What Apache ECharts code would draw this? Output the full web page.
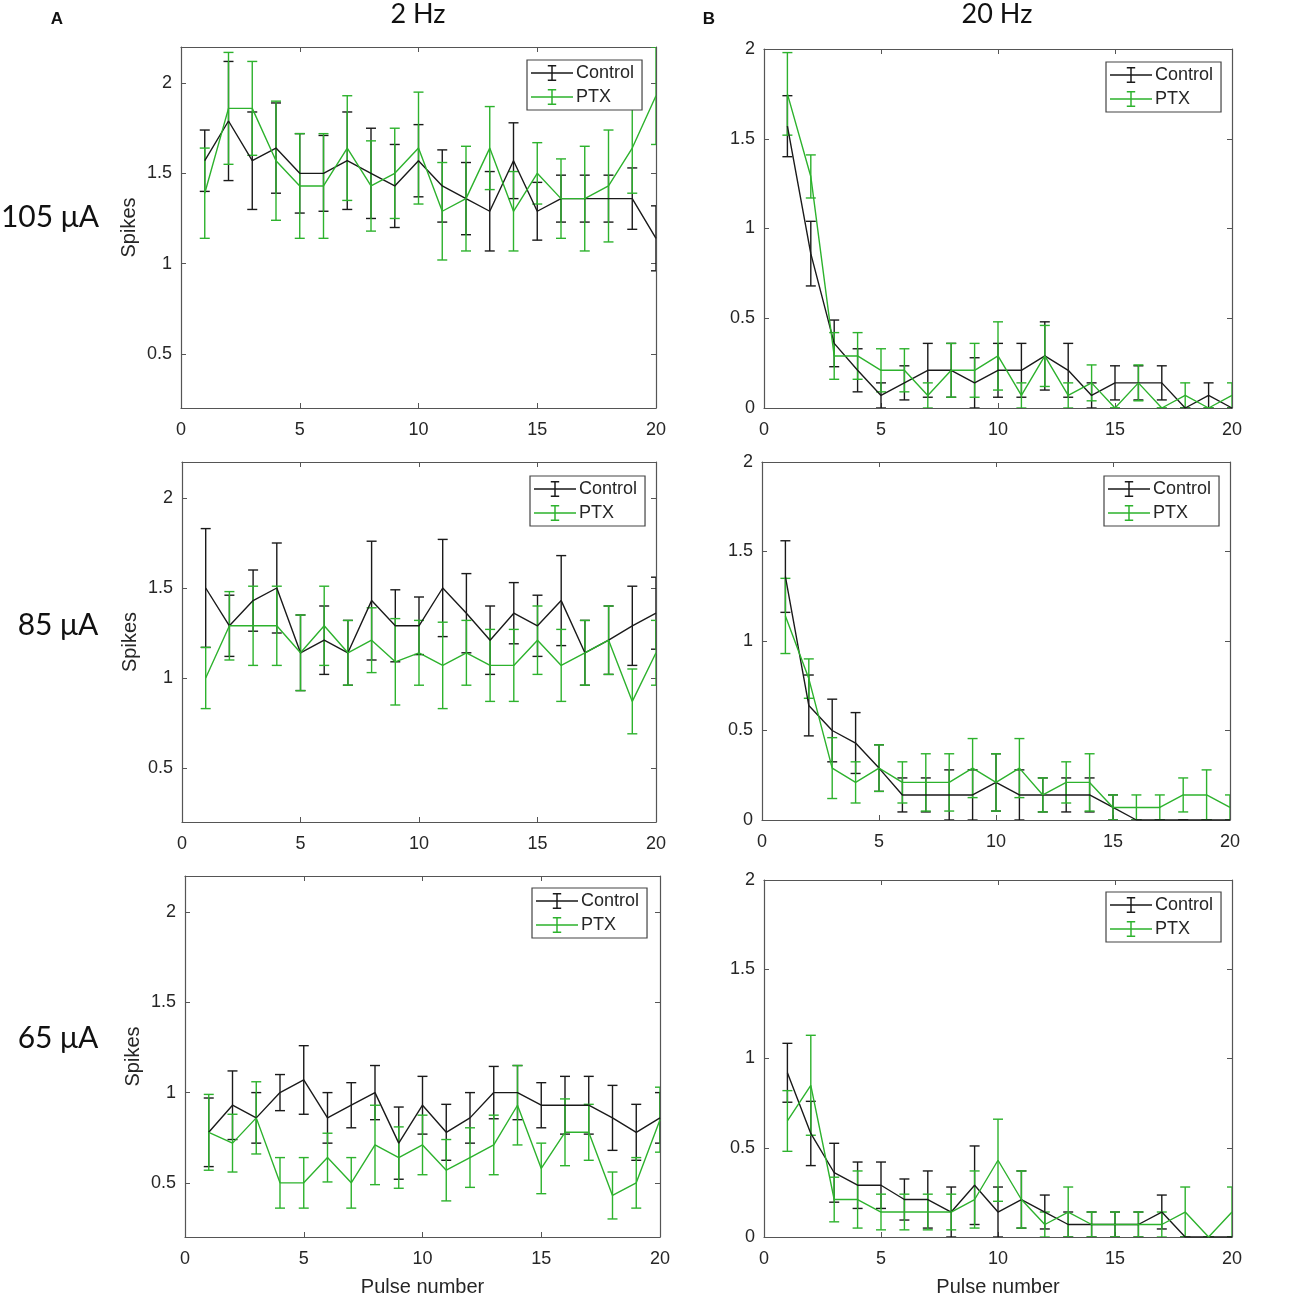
<!DOCTYPE html>
<html>
<head>
<meta charset="utf-8">
<script src="https://cdn.jsdelivr.net/npm/echarts@6/dist/echarts.min.js"></script>
<style>
  html, body { margin: 0; padding: 0; background: #fff; }
  #chart { width: 1290px; height: 1300px; }
</style>
</head>
<body>
<div id="chart"></div>
<script>
// pulse numbers
const pulses = [1,2,3,4,5,6,7,8,9,10,11,12,13,14,15,16,17,18,19,20];

// A - 2 Hz
const ctrl105_2 = [1.57,1.79,1.57,1.64,1.50,1.50,1.57,1.50,1.43,1.57,1.43,1.36,1.29,1.57,1.29,1.36,1.36,1.36,1.36,1.14];
const ctrlErr105_2 = [0.17,0.33,0.27,0.25,0.22,0.21,0.27,0.25,0.23,0.20,0.20,0.20,0.22,0.21,0.16,0.13,0.13,0.13,0.17,0.18];
const ptx105_2 = [1.39,1.86,1.86,1.57,1.43,1.43,1.64,1.43,1.50,1.64,1.29,1.36,1.64,1.29,1.50,1.36,1.36,1.43,1.64,1.93];
const ptxErr105_2 = [0.25,0.31,0.26,0.33,0.29,0.29,0.29,0.25,0.25,0.31,0.27,0.29,0.23,0.22,0.17,0.22,0.29,0.31,0.25,0.27];

const ctrl85_2 = [1.50,1.29,1.43,1.50,1.14,1.21,1.14,1.43,1.29,1.29,1.50,1.36,1.21,1.36,1.29,1.43,1.14,1.21,1.29,1.36];
const ctrlErr85_2 = [0.33,0.17,0.17,0.25,0.21,0.19,0.18,0.33,0.20,0.16,0.27,0.22,0.19,0.17,0.17,0.25,0.18,0.19,0.22,0.20];
const ptx85_2 = [1.00,1.29,1.29,1.29,1.14,1.29,1.14,1.21,1.09,1.14,1.07,1.14,1.07,1.07,1.21,1.07,1.14,1.21,0.87,1.14];
const ptxErr85_2 = [0.17,0.19,0.22,0.22,0.21,0.22,0.18,0.18,0.24,0.18,0.24,0.18,0.20,0.20,0.19,0.20,0.18,0.19,0.18,0.18];

const ctrl65_2 = [0.78,0.93,0.86,1.00,1.07,0.86,0.93,1.00,0.72,0.93,0.78,0.86,1.00,1.00,0.93,0.93,0.93,0.86,0.78,0.86];
const ctrlErr65_2 = [0.19,0.19,0.14,0.10,0.19,0.14,0.125,0.15,0.20,0.16,0.155,0.14,0.145,0.15,0.125,0.16,0.16,0.18,0.155,0.14];
const ptx65_2 = [0.78,0.72,0.86,0.50,0.50,0.64,0.50,0.71,0.64,0.71,0.57,0.64,0.71,0.93,0.58,0.78,0.78,0.43,0.50,0.85];
const ptxErr65_2 = [0.21,0.16,0.20,0.14,0.14,0.135,0.14,0.22,0.17,0.165,0.17,0.165,0.165,0.22,0.14,0.185,0.155,0.13,0.14,0.18];

// B - 20 Hz
const ctrl105_20 = [1.57,0.86,0.36,0.21,0.07,0.14,0.21,0.21,0.14,0.21,0.21,0.29,0.21,0.07,0.14,0.14,0.14,0,0.07,0];
const ctrlErr105_20 = [0.17,0.18,0.13,0.12,0.07,0.095,0.15,0.15,0.14,0.15,0.15,0.19,0.15,0.07,0.095,0.095,0.095,0,0.07,0];
const ptx105_20 = [1.75,1.29,0.29,0.29,0.21,0.21,0.07,0.21,0.21,0.29,0.07,0.29,0.07,0.14,0,0.14,0,0.07,0,0.07];
const ptxErr105_20 = [0.23,0.12,0.13,0.13,0.12,0.12,0.07,0.15,0.15,0.19,0.07,0.17,0.07,0.1,0,0.1,0,0.07,0,0.07];

const ctrl85_20 = [1.36,0.64,0.50,0.43,0.29,0.14,0.14,0.14,0.14,0.21,0.14,0.14,0.14,0.14,0.07,0,0,0,0,0];
const ctrlErr85_20 = [0.20,0.17,0.175,0.17,0.13,0.095,0.095,0.14,0.14,0.16,0.14,0.095,0.095,0.095,0.07,0,0,0,0,0];
const ptx85_20 = [1.14,0.79,0.29,0.21,0.29,0.21,0.21,0.21,0.29,0.21,0.29,0.14,0.21,0.21,0.07,0.07,0.07,0.14,0.14,0.07];
const ptxErr85_20 = [0.21,0.11,0.17,0.115,0.13,0.115,0.16,0.16,0.165,0.16,0.165,0.095,0.115,0.16,0.07,0.07,0.07,0.095,0.14,0.07];

const ctrl65_20 = [0.92,0.58,0.36,0.29,0.29,0.21,0.21,0.14,0.29,0.14,0.21,0.14,0.07,0.07,0.07,0.07,0.14,0,0,0];
const ctrlErr65_20 = [0.165,0.18,0.165,0.13,0.13,0.115,0.16,0.14,0.22,0.14,0.16,0.095,0.07,0.07,0.07,0.07,0.095,0,0,0];
const ptx65_20 = [0.65,0.85,0.21,0.21,0.14,0.14,0.14,0.14,0.21,0.43,0.21,0.07,0.14,0.07,0.07,0.07,0.07,0.14,0,0.14];
const ptxErr65_20 = [0.17,0.28,0.125,0.16,0.1,0.1,0.1,0.1,0.16,0.23,0.16,0.07,0.14,0.07,0.07,0.07,0.07,0.14,0,0.14];

const xTicks = [0, 5, 10, 15, 20];
const yTicks2Hz = [0.5, 1, 1.5, 2];
const yTicks20Hz = [0, 0.5, 1, 1.5, 2];

const BLACK = '#1a1a1a';
const GREEN = '#2db22d';
const AXIS = '#555';
const TXT = '#262626';
const FONT = '"Liberation Sans", Arial, sans-serif';

// panels: grid box, data, y range
const panels = [
  { box: [181, 47, 475, 361], ctl: ctrl105_2, ctlE: ctrlErr105_2, ptx: ptx105_2, ptxE: ptxErr105_2, ymin: 0.2, ymax: 2.2, yt: yTicks2Hz, leg: [527, 60], xName: false, yName: true },
  { box: [764, 49, 468, 359], ctl: ctrl105_20, ctlE: ctrlErr105_20, ptx: ptx105_20, ptxE: ptxErr105_20, ymin: 0, ymax: 2, yt: yTicks20Hz, leg: [1106, 62], xName: false, yName: false },
  { box: [182, 462, 474, 360], ctl: ctrl85_2, ctlE: ctrlErr85_2, ptx: ptx85_2, ptxE: ptxErr85_2, ymin: 0.2, ymax: 2.2, yt: yTicks2Hz, leg: [530, 476], xName: false, yName: true },
  { box: [762, 462, 468, 358], ctl: ctrl85_20, ctlE: ctrlErr85_20, ptx: ptx85_20, ptxE: ptxErr85_20, ymin: 0, ymax: 2, yt: yTicks20Hz, leg: [1104, 476], xName: false, yName: false },
  { box: [185, 876, 475, 361], ctl: ctrl65_2, ctlE: ctrlErr65_2, ptx: ptx65_2, ptxE: ptxErr65_2, ymin: 0.2, ymax: 2.2, yt: yTicks2Hz, leg: [532, 888], xName: true, yName: true },
  { box: [764, 880, 468, 357], ctl: ctrl65_20, ctlE: ctrlErr65_20, ptx: ptx65_20, ptxE: ptxErr65_20, ymin: 0, ymax: 2, yt: yTicks20Hz, leg: [1106, 892], xName: true, yName: false }
];

// I-beam legend icon (line with error bar)
const legendIcon = 'path://M0,7.3h40v1.4h-40z M19.3,1h1.4v14h-1.4z M16,0.3h8v1.4h-8z M16,14.3h8v1.4h-8z';

function errBars(name, means, errs, color, gi) {
  return {
    type: 'custom',
    name: name,
    xAxisIndex: gi * 2,
    yAxisIndex: gi * 2,
    clip: true,
    silent: true,
    data: means.map((m, i) => [pulses[i], m - errs[i], m + errs[i]]),
    encode: { x: 0, y: [1, 2] },
    renderItem: function(params, api) {
      const x = api.value(0);
      const lo = api.coord([x, api.value(1)]);
      const hi = api.coord([x, api.value(2)]);
      const w = 5;
      const style = { stroke: color, lineWidth: 1.4, fill: null };
      return {
        type: 'group',
        children: [
          { type: 'line', shape: { x1: lo[0], y1: lo[1], x2: hi[0], y2: hi[1] }, style: style },
          { type: 'line', shape: { x1: lo[0] - w, y1: lo[1], x2: lo[0] + w, y2: lo[1] }, style: style },
          { type: 'line', shape: { x1: hi[0] - w, y1: hi[1], x2: hi[0] + w, y2: hi[1] }, style: style }
        ]
      };
    }
  };
}

const grid = [], xAxis = [], yAxis = [], series = [], legend = [];

panels.forEach(function(p, gi) {
  grid.push({ left: p.box[0], top: p.box[1], width: p.box[2], height: p.box[3], containLabel: false });
  const tick = { inside: true, length: 5, lineStyle: { color: AXIS } };
  const line = { onZero: false, lineStyle: { color: AXIS, width: 1.2 } };
  xAxis.push({
    gridIndex: gi, type: 'value', min: 0, max: 20, interval: 5, position: 'bottom',
    axisLine: line, axisTick: tick, splitLine: { show: false },
    axisLabel: { color: TXT, fontSize: 18, fontFamily: FONT, margin: 13, customValues: xTicks },
    name: p.xName ? 'Pulse number' : '', nameLocation: 'middle', nameGap: 40,
    nameTextStyle: { color: TXT, fontSize: 20, fontFamily: FONT }
  });
  xAxis.push({
    gridIndex: gi, type: 'value', min: 0, max: 20, interval: 5, position: 'top',
    axisLine: line, axisTick: tick, splitLine: { show: false }, axisLabel: { show: false }
  });
  yAxis.push({
    gridIndex: gi, type: 'value', min: p.ymin, max: p.ymax, position: 'left',
    axisLine: line, axisTick: Object.assign({ customValues: p.yt }, tick), splitLine: { show: false },
    axisLabel: { color: TXT, fontSize: 18, fontFamily: FONT, margin: 9, customValues: p.yt },
    name: p.yName ? 'Spikes' : '', nameLocation: 'middle', nameGap: 42, nameRotate: 90,
    nameTextStyle: { color: TXT, fontSize: 20, fontFamily: FONT }
  });
  yAxis.push({
    gridIndex: gi, type: 'value', min: p.ymin, max: p.ymax, position: 'right',
    axisLine: line, axisTick: Object.assign({ customValues: p.yt }, tick), splitLine: { show: false },
    axisLabel: { show: false }
  });

  series.push({
    type: 'line', name: 'Control', xAxisIndex: gi * 2, yAxisIndex: gi * 2,
    data: p.ctl.map((v, i) => [pulses[i], v]), symbol: 'none', color: BLACK,
    lineStyle: { color: BLACK, width: 1.4 }, silent: true, z: 2
  });
  series.push(errBars('Control SEM', p.ctl, p.ctlE, BLACK, gi));
  series.push({
    type: 'line', name: 'PTX', xAxisIndex: gi * 2, yAxisIndex: gi * 2,
    data: p.ptx.map((v, i) => [pulses[i], v]), symbol: 'none', color: GREEN,
    lineStyle: { color: GREEN, width: 1.4 }, silent: true, z: 3
  });
  series.push(errBars('PTX SEM', p.ptx, p.ptxE, GREEN, gi));

  legend.push({
    data: ['Control', 'PTX'], orient: 'vertical', left: p.leg[0], top: p.leg[1],
    icon: legendIcon, itemWidth: 42, itemHeight: 17, itemGap: 6,
    padding: [4, 8, 4, 4], borderColor: '#444', borderWidth: 1.2, backgroundColor: '#fff',
    selectedMode: false,
    textStyle: { color: TXT, fontSize: 18, fontFamily: FONT, padding: [0, 0, 0, -2] }
  });
});

const graphic = [
  { type: 'text', x: 57, y: 19, style: { text: 'A', font: 'bold 17px ' + FONT, fill: '#111', align: 'center', verticalAlign: 'middle' } },
  { type: 'text', x: 709, y: 19, style: { text: 'B', font: 'bold 17px ' + FONT, fill: '#111', align: 'center', verticalAlign: 'middle' } },
  { type: 'text', x: 418, y: 14, style: { text: '2 Hz', font: '27px Lato, "Open Sans", sans-serif', fill: '#111', align: 'center', verticalAlign: 'middle' } },
  { type: 'text', x: 997, y: 14, style: { text: '20 Hz', font: '27px Lato, "Open Sans", sans-serif', fill: '#111', align: 'center', verticalAlign: 'middle' } },
  { type: 'text', x: 50, y: 217, style: { text: '105 μA', font: '30px Lato, "Open Sans", sans-serif', fill: '#111', align: 'center', verticalAlign: 'middle' } },
  { type: 'text', x: 58, y: 625, style: { text: '85 μA', font: '30px Lato, "Open Sans", sans-serif', fill: '#111', align: 'center', verticalAlign: 'middle' } },
  { type: 'text', x: 58, y: 1038, style: { text: '65 μA', font: '30px Lato, "Open Sans", sans-serif', fill: '#111', align: 'center', verticalAlign: 'middle' } }
];

const chart = echarts.init(document.getElementById('chart'), null, { renderer: 'canvas' });
chart.setOption({
  backgroundColor: '#fff',
  animation: false,
  grid: grid,
  xAxis: xAxis,
  yAxis: yAxis,
  legend: legend,
  series: series,
  graphic: graphic
});
</script>
</body>
</html>
